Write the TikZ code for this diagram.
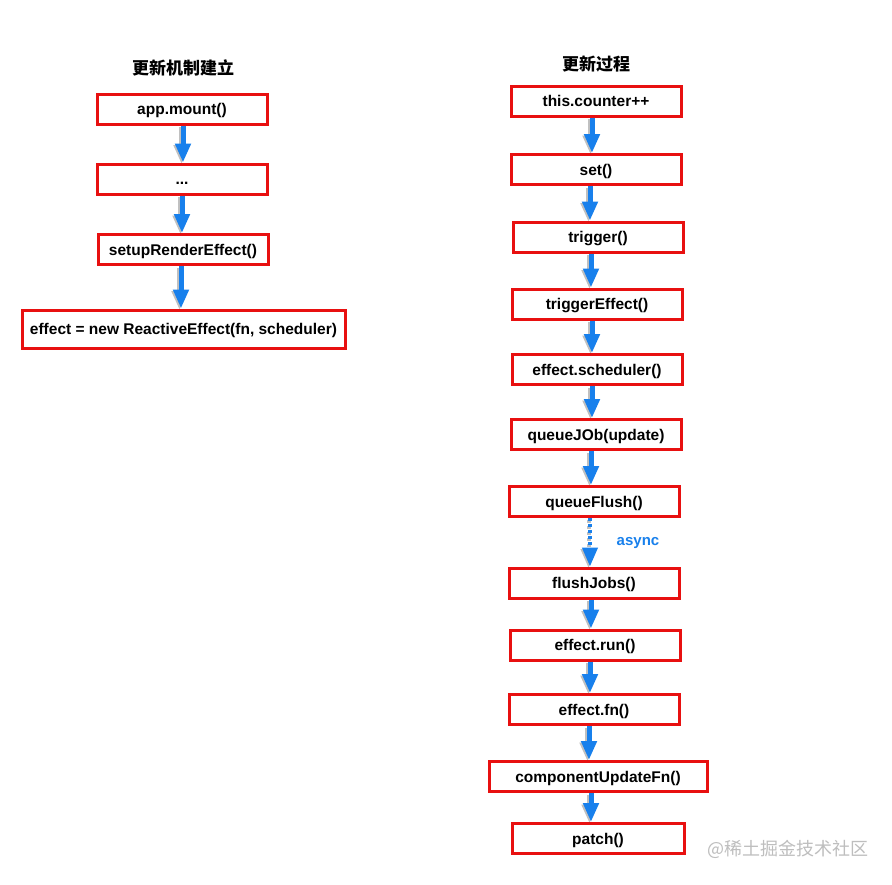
\documentclass[tikz,border=0pt]{standalone}
\usepackage{fontspec}
\setmainfont{Liberation Sans}
\newfontfamily\cjk{Noto Sans CJK SC}
\usetikzlibrary{arrows.meta}
\definecolor{boxred}{RGB}{232,16,16}
\definecolor{flowblue}{RGB}{24,128,236}
\definecolor{wmgray}{RGB}{190,190,190}
\tikzset{
  box/.style={draw=boxred, line width=3pt, fill=white, inner sep=0pt,
    minimum width=170pt, minimum height=30pt, text height=11pt, text depth=0pt,
    font=\bfseries\fontsize{15.5}{17}\selectfont},
  flow/.style={draw=flowblue, line width=5pt, -{Triangle[width=15pt,length=19pt]}},
  flowshadow/.style={draw=black!70, opacity=0.35, line width=5pt, -{Triangle[width=15pt,length=19pt]}, transform canvas={shift={(-1.5pt,-1.5pt)}}},
  title/.style={font=\cjk\bfseries\fontsize{17}{19}\selectfont}
}
\newcommand\flowarrow[3]{%
  \draw[flowshadow] ([xshift=#3]#1.south) -- ([xshift=#3]#1.south |- #2.north);
  \draw[flow] ([xshift=#3]#1.south) -- ([xshift=#3]#1.south |- #2.north);}
\begin{document}
\begin{tikzpicture}[x=1pt,y=-1pt]
\useasboundingbox (0,0) rectangle (892,884);
\fill[white] (0,0) rectangle (892,884);
% left column
\node[title] (tl) at (183,68) {更新机制建立};
\node[box] (l1) at (182,109) {app.mount()};
\node[box] (l2) at (182,179) {...};
\node[box] (l3) at (183,249.5) {setupRenderEffect()};
\node[box, minimum width=323pt, minimum height=38pt] (l4) at (183.5,329) {effect = new ReactiveEffect(fn, scheduler)};
\flowarrow{l1}{l2}{1pt}
\flowarrow{l2}{l3}{0pt}
\flowarrow{l3}{l4}{-2pt}
% right column
\node[title] (tr) at (596,64) {更新过程};
\node[box] (r1) at (596,101) {this.counter++};
\node[box] (r2) at (596,169.5) {set()};
\node[box] (r3) at (598,237) {trigger()};
\node[box] (r4) at (597,304) {triggerEffect()};
\node[box] (r5) at (597,369.5) {effect.scheduler()};
\node[box] (r6) at (596,434.5) {queueJOb(update)};
\node[box] (r7) at (594,501.5) {queueFlush()};
\node[box] (r8) at (594,583) {flushJobs()};
\node[box] (r9) at (595,645) {effect.run()};
\node[box] (r10) at (594,709.5) {effect.fn()};
\node[box, minimum width=218pt] (r11) at (598,776.5) {componentUpdateFn()};
\node[box, minimum width=172pt] (r12) at (598,838.5) {patch()};
\flowarrow{r1}{r2}{-4pt}
\flowarrow{r2}{r3}{-6pt}
\flowarrow{r3}{r4}{-7pt}
\flowarrow{r4}{r5}{-5pt}
\flowarrow{r5}{r6}{-5pt}
\flowarrow{r6}{r7}{-5pt}
% dotted async arrow
\draw[flowshadow, line width=4pt, dash pattern=on 3pt off 3pt] ([xshift=-4pt]r7.south) -- ([xshift=-4pt]r7.south |- r8.north);
\draw[flow, line width=4pt, dash pattern=on 3pt off 3pt] ([xshift=-4pt]r7.south) -- ([xshift=-4pt]r7.south |- r8.north);
\node[font=\bfseries\fontsize{15}{17}\selectfont, text=flowblue, text height=8pt, text depth=0pt, inner sep=0pt] (async) at (638,541) {async};
\flowarrow{r8}{r9}{-3pt}
\flowarrow{r9}{r10}{-5pt}
\flowarrow{r10}{r11}{-5pt}
\flowarrow{r11}{r12}{-7pt}
% watermark
\node[font=\cjk\fontsize{18}{20}\selectfont, text=wmgray, anchor=west] (wm) at (704,849) {@稀土掘金技术社区};
\end{tikzpicture}
\end{document}
